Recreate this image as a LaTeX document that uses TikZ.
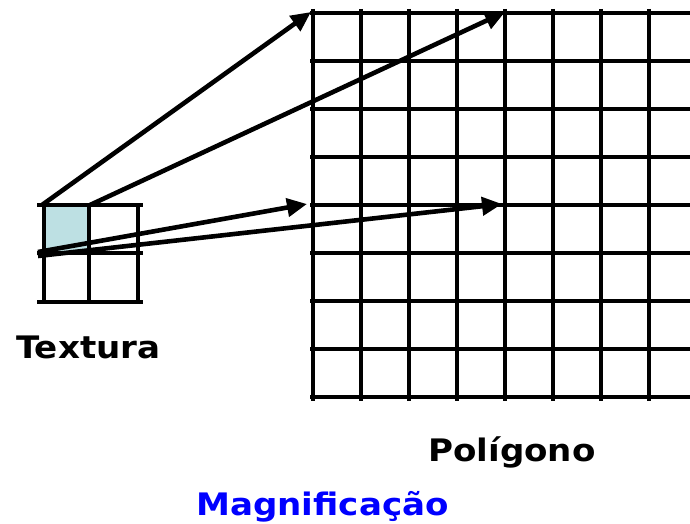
\documentclass[tikz,border=0pt]{standalone}
\usepackage{fontspec}
\newfontfamily\lbl[FakeStretch=1.1]{DejaVu Sans Bold}
\usetikzlibrary{arrows.meta}
\definecolor{texcell}{HTML}{BDE0E3}
\definecolor{magblue}{HTML}{0000FF}
\tikzset{
  gridline/.style={line width=4pt},
  bigarrow/.style={line width=4.6pt, -{Triangle[length=20pt,width=18pt]}},
  lbltext/.style={anchor=base west, inner sep=0pt, font=\lbl\fontsize{31}{31}\selectfont},
}
\begin{document}
\begin{tikzpicture}[x=1pt,y=-1pt]
\useasboundingbox (0,0) rectangle (690,524);
% texture cell fill
\fill[texcell] (44,205) rectangle (89,253);
% small texture grid
\foreach \y in {205,253,302} \draw[gridline] (37,\y) -- (143,\y);
\foreach \x in {44,89,138} \draw[gridline] (\x,205) -- (\x,302);
% polygon grid
\foreach \i in {0,...,8} \draw[gridline] (310,13+48*\i) -- (690,13+48*\i);
\foreach \i in {0,...,8} \draw[gridline] (313+48*\i,9) -- (313+48*\i,401);
% arrow endpoints
\coordinate (s1) at (42,205);
\coordinate (s2) at (90,205);
\coordinate (s3) at (38,252);
\coordinate (s4) at (38,256);
\coordinate (t1) at (311,12);
\coordinate (t2) at (505,12);
\coordinate (t3) at (307,204);
\coordinate (t4) at (502,204);
\draw[bigarrow] (s1) -- (t1);
\draw[bigarrow] (s2) -- (t2);
\draw[bigarrow] (s3) -- (t3);
\draw[bigarrow] (s4) -- (t4);
% labels
\node[lbltext] (textura) at (16,358) {Textura};
\node[lbltext] (poligono) at (428,461) {Polígono};
\node[lbltext, text=magblue] (magnif) at (196,515) {Magnificação};
\end{tikzpicture}
\end{document}
